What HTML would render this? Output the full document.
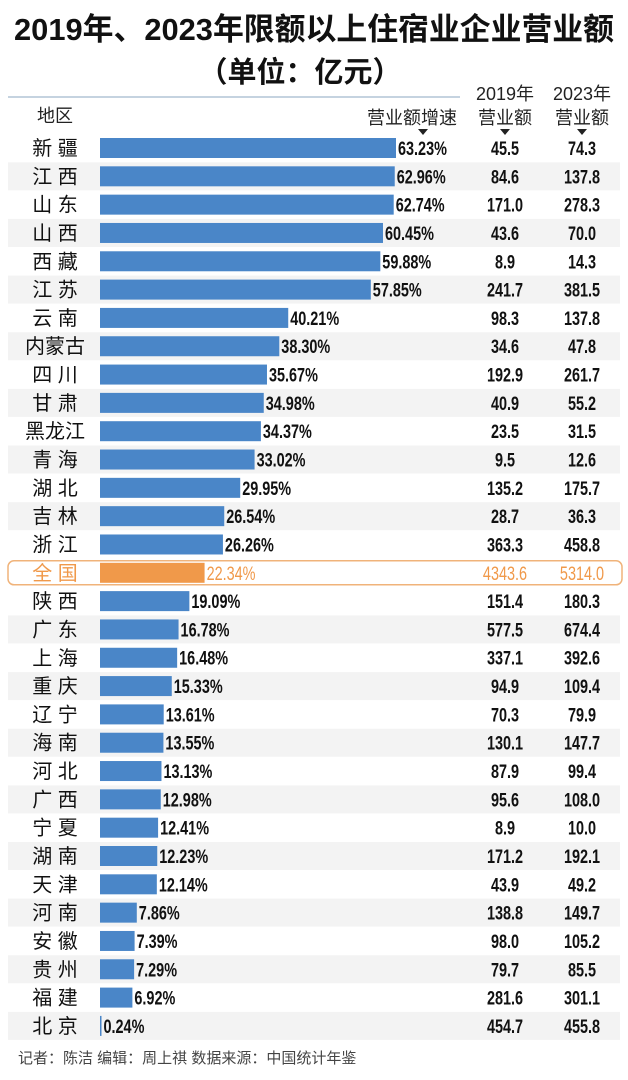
<!DOCTYPE html>
<html><head><meta charset="utf-8"><style>
body{margin:0;background:#fff;}
svg{display:block;font-family:"Liberation Sans","Noto Sans CJK SC",sans-serif;}
</style></head><body>
<svg id="chart" width="628" height="1080" viewBox="0 0 628 1080">
<text x="314" y="40" text-anchor="middle" font-size="31" font-weight="bold" fill="#111" textLength="600" lengthAdjust="spacingAndGlyphs">2019年、2023年限额以上住宿业企业营业额</text>
<text x="300" y="82" text-anchor="middle" font-size="29" font-weight="bold" fill="#111">（单位：亿元）</text>
<line x1="8" y1="97" x2="460" y2="97" stroke="#c5d3e0" stroke-width="2"/>
<text x="55" y="122" text-anchor="middle" font-size="18" fill="#222">地区</text>
<text x="457" y="124" text-anchor="end" font-size="18" fill="#222">营业额增速</text>
<text x="505" y="100" text-anchor="middle" font-size="18" fill="#222">2019年</text>
<text x="505" y="124" text-anchor="middle" font-size="18" fill="#222">营业额</text>
<text x="582" y="100" text-anchor="middle" font-size="18" fill="#222">2023年</text>
<text x="582" y="124" text-anchor="middle" font-size="18" fill="#222">营业额</text>
<polygon points="418,129 428,129 423,135" fill="#222"/>
<polygon points="500,129 510,129 505,135" fill="#222"/>
<polygon points="577,129 587,129 582,135" fill="#222"/>
<g id="rows"></g>
<text x="18" y="1063" font-size="15" fill="#444">记者：陈洁  编辑：周上祺   数据来源：中国统计年鉴</text>
</svg>
<script>
const regions=["新 疆","江 西","山 东","山 西","西 藏","江 苏","云 南","内蒙古","四 川","甘 肃","黑龙江","青 海","湖 北","吉 林","浙 江","全 国","陕 西","广 东","上 海","重 庆","辽 宁","海 南","河 北","广 西","宁 夏","湖 南","天 津","河 南","安 徽","贵 州","福 建","北 京"];
const growth=[63.23,62.96,62.74,60.45,59.88,57.85,40.21,38.30,35.67,34.98,34.37,33.02,29.95,26.54,26.26,22.34,19.09,16.78,16.48,15.33,13.61,13.55,13.13,12.98,12.41,12.23,12.14,7.86,7.39,7.29,6.92,0.24];
const rev2019=["45.5","84.6","171.0","43.6","8.9","241.7","98.3","34.6","192.9","40.9","23.5","9.5","135.2","28.7","363.3","4343.6","151.4","577.5","337.1","94.9","70.3","130.1","87.9","95.6","8.9","171.2","43.9","138.8","98.0","79.7","281.6","454.7"];
const rev2023=["74.3","137.8","278.3","70.0","14.3","381.5","137.8","47.8","261.7","55.2","31.5","12.6","175.7","36.3","458.8","5314.0","180.3","674.4","392.6","109.4","79.9","147.7","99.4","108.0","10.0","192.1","49.2","149.7","105.2","85.5","301.1","455.8"];
const NS="http://www.w3.org/2000/svg";
const g=document.getElementById('rows');
const x0=100, xs=296/63.23;
const xScale=v=>x0+v*xs;
const yScale=i=>148+i*28.32;
function mk(t,a){const e=document.createElementNS(NS,t);for(const k in a)e.setAttribute(k,a[k]);g.appendChild(e);return e;}
regions.forEach((r,i)=>{
  const cy=yScale(i), nat=r==="全 国";
  const col=nat?"#f0994a":"#4a86c8", tc=nat?"#f0994a":"#111";
  if(i%2===1&&!nat){const s=mk('rect',{x:8,y:cy-14,width:612,height:28,fill:"#f3f3f3"});
    
    }
  if(nat){const o=mk('rect',{x:8,y:cy-12,width:614,height:24,rx:6,fill:"#fff",stroke:"#f0b37a","stroke-width":1.5});
    
    }
  const l=mk('text',{x:55,y:cy+7,"text-anchor":"middle","font-size":20,fill:tc});l.textContent=r;
  
  
  const w=Math.max(xScale(growth[i])-x0,1.5);
  const b=mk('rect',{x:x0,y:cy-10,width:w,height:20,fill:col});
  
  
  const fw=nat?"normal":"bold";
  const v=mk('text',{x:x0+w+2,y:cy+7,"font-size":19,"font-weight":fw,fill:tc,transform:`translate(${x0+w+2},0) scale(0.76,1) translate(${-(x0+w+2)},0)`});v.textContent=growth[i].toFixed(2)+"%";
  
  
  const a=mk('text',{x:505,y:cy+7,"text-anchor":"middle","font-size":19,"font-weight":fw,fill:tc,transform:`translate(505,0) scale(0.76,1) translate(-505,0)`});a.textContent=rev2019[i];
  
  
  const c=mk('text',{x:582,y:cy+7,"text-anchor":"middle","font-size":19,"font-weight":fw,fill:tc,transform:`translate(582,0) scale(0.76,1) translate(-582,0)`});c.textContent=rev2023[i];
  
  
});
</script>
</body></html>
